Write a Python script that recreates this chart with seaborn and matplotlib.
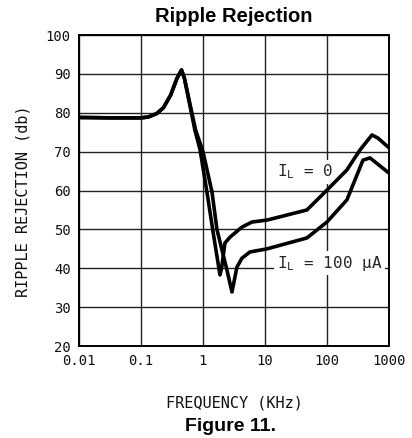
import matplotlib
matplotlib.use("Agg")
import matplotlib.pyplot as plt
import seaborn as sns

# shared low-frequency part (kHz, dB)
freq_common = [0.01, 0.03, 0.1, 0.13, 0.18, 0.23, 0.3, 0.38, 0.45, 0.5]
rej_common = [78.8, 78.7, 78.7, 78.9, 79.8, 81.3, 84.5, 88.8, 91.0, 89.0]

# I_L = 0
freq_a = [0.74, 0.9, 1.16, 1.45, 1.88, 2.0, 2.26, 2.73, 4.26, 6.17, 10.8, 47.6,
          100, 210, 340, 532, 665, 1000]
rej_a = [75.6, 70.4, 59.6, 49.5, 38.3, 40.0, 46.5, 48.0, 50.6, 51.9, 52.4, 55.0,
         60.1, 65.3, 70.4, 74.3, 73.5, 71.0]

# I_L = 100 uA
freq_b = [0.76, 1.0, 1.4, 1.68, 2.44, 2.94, 3.53, 4.26, 5.73, 10.8, 47.6,
          100, 210, 381, 494, 1000]
rej_b = [75.6, 70.0, 59.6, 50.0, 39.5, 33.9, 40.3, 42.6, 44.2, 45.0, 47.8,
         51.9, 57.6, 67.8, 68.4, 64.5]

xticks = [0.01, 0.1, 1, 10, 100, 1000]
xtick_labels = ["0.01", "0.1", "1", "10", "100", "1000"]
yticks = [20, 30, 40, 50, 60, 70, 80, 90, 100]

sns.set_style("white")
mono = "DejaVu Sans Mono"
plt.rcParams["font.family"] = [mono]
plt.rcParams["mathtext.fontset"] = "custom"
plt.rcParams["mathtext.rm"] = mono

fig = plt.figure(figsize=(4.12, 4.38), dpi=100)
ax = fig.add_axes([0.1917, 0.21, 0.7523, 0.71])

for f, r in [(freq_common + freq_a, rej_common + rej_a),
             (freq_common + freq_b, rej_common + rej_b)]:
    sns.lineplot(x=f, y=r, ax=ax, color="black", linewidth=2.6,
                 sort=False, zorder=5)

ax.set_xscale("log")
ax.set_xlim(0.01, 1000)
ax.set_ylim(20, 100)
ax.set_xticks(xticks)
ax.set_xticklabels(xtick_labels)
ax.minorticks_off()
ax.set_yticks(yticks)
ax.tick_params(length=0, labelsize=10, pad=6, colors="#111111")

ax.grid(True, color="#222222", linewidth=1.0)
for s in ax.spines.values():
    s.set_color("black")
    s.set_linewidth(1.4)

ax.set_xlabel("FREQUENCY (KHz)", fontsize=11, color="#111111")
ax.xaxis.set_label_coords(0.5, -0.158)
ax.set_ylabel("RIPPLE REJECTION (db)", fontsize=11, color="#111111")
ax.yaxis.set_label_coords(-0.158, 0.466)

box = dict(facecolor="white", edgecolor="none", pad=2)
ax.text(15.6, 64.8, r"I$_\mathrm{L}$ = 0", fontsize=11.5, va="center",
        ha="left", bbox=box, zorder=3)
ax.text(15.6, 41.3, r"I$_\mathrm{L}$ = 100 μA", fontsize=11.5, va="center",
        ha="left", bbox=box, zorder=3)

fig.text(0.568, 0.963, "Ripple Rejection", family="Liberation Sans",
         weight="bold", fontsize=14.5, ha="center", va="center", color="black")
fig.text(0.559, 0.027, "Figure 11.", family="Liberation Sans",
         weight="bold", fontsize=14, ha="center", va="center", color="black")

fig.savefig("out.png", dpi=100)
